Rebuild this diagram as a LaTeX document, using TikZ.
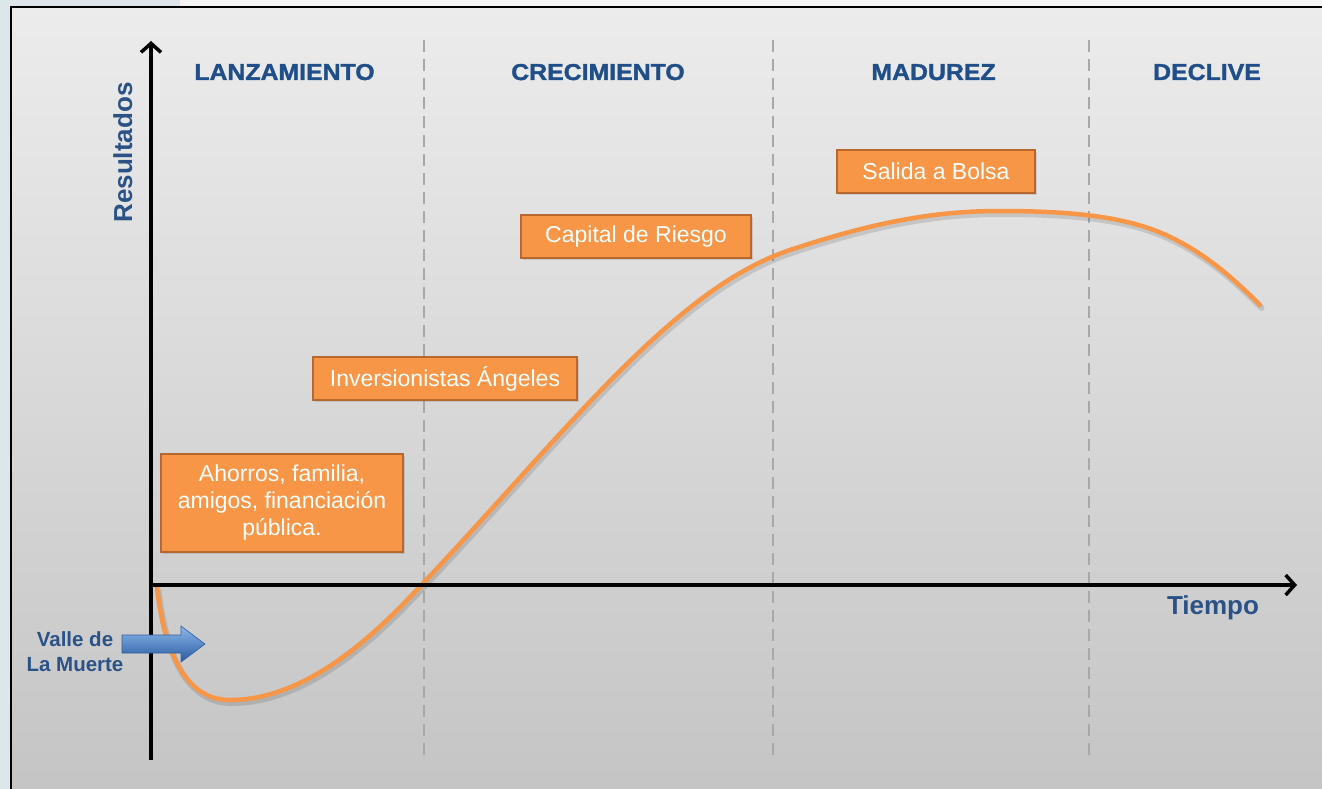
\documentclass[tikz,border=0pt]{standalone}
\usepackage{fontspec}
\setmainfont{Liberation Sans}
\newfontfamily\hdfont{Liberation Sans}[UprightFont=* Bold, FakeStretch=1.08, FakeBold=1.5]
\newfontfamily\lbfont{Liberation Sans}[UprightFont=* Bold]
\usetikzlibrary{arrows.meta,shadows}
\definecolor{hdblue}{HTML}{1F4E89}
\definecolor{lbblue}{HTML}{2A5286}
\definecolor{orfill}{HTML}{F79646}
\definecolor{ordraw}{HTML}{B8672E}
\definecolor{dashgray}{HTML}{A8A8A8}
\tikzset{
  header/.style={text=hdblue, font=\hdfont\fontsize{23}{27}\selectfont, inner sep=0pt, anchor=base},
  axislabel/.style={text=lbblue, font=\lbfont\fontsize{26}{30}\selectfont, inner sep=0pt, anchor=base},
  orbox/.style={fill=orfill, draw=ordraw, line width=2pt, text=white, align=center,
    font=\fontsize{23}{27}\selectfont, inner sep=0pt,
    drop shadow={opacity=0.25, shadow xshift=1.5pt, shadow yshift=-2pt}},
  phase/.style={draw=dashgray, line width=1.3pt, dash pattern=on 12pt off 7pt},
  axis/.style={draw=black, line width=3.5pt, -{Straight Barb[length=9pt,width=20pt,line width=3.5pt]}},
  curve/.style={draw=orfill, line width=4.5pt, line cap=round, line join=round}
}
\begin{document}
\begin{tikzpicture}[x=1pt,y=-1pt]
\useasboundingbox (0,0) rectangle (1322,789);
% outer background
\fill[color={rgb,255:red,221;green,230;blue,235}] (0,0) rectangle (1322,789);
\fill[color={rgb,255:red,245;green,245;blue,245}] (180,0) rectangle (1322,7);
% frame
\shade[top color={rgb,255:red,236;green,236;blue,236}, bottom color={rgb,255:red,196;green,196;blue,196}]
  (11,7) rectangle (1340,800);
\draw[black, line width=2pt] (11,800) -- (11,7) -- (1340,7);
% phase separators
\foreach \xx/\nm in {424/a,773/b,1089/c}{
  \coordinate (t\nm) at (\xx,40);
  \coordinate (b\nm) at (\xx,760);
  \draw[phase] (t\nm) -- (b\nm);
}
% headers
\node[header] (h1) at (284.5,80) {LANZAMIENTO};
\node[header] (h2) at (598,80) {CRECIMIENTO};
\node[header] (h3) at (933.5,80) {MADUREZ};
\node[header] (h4) at (1207,80) {DECLIVE};
% curve
\def\curvepath{(157,588) .. controls (163,640) and (180,700) .. (230,700)
  .. controls (290,700) and (350,660) .. (410,597)
  .. controls (560,440) and (670,290) .. (790,250)
  .. controls (880,220) and (940,211) .. (1000,211)
  .. controls (1090,211) and (1140,220) .. (1180,242)
  .. controls (1210,258) and (1235,280) .. (1260,305)}
\begin{scope}[shift={(1.5,3)}]
\draw[curve, draw=black, opacity=0.12, line width=6pt] \curvepath;
\end{scope}
\draw[curve] \curvepath;
% axes
\coordinate (yb) at (151,760);
\coordinate (yt) at (151,41);
\coordinate (xo) at (153,585);
\coordinate (xe) at (1297,585);
\draw[axis] (yb) -- (yt);
\draw[axis] (xo) -- (xe);
% axis labels
\node[axislabel, rotate=90] (res) at (132,152.5) {Resultados};
\node[axislabel] (tie) at (1213,614) {Tiempo};
% valle
\node[text=lbblue, font=\lbfont\fontsize{20.5}{25}\selectfont, align=center, inner sep=0pt] (valle) at (75,652) {Valle de\\La Muerte};
\shade[top color={rgb,255:red,140;green,185;blue,235}, bottom color={rgb,255:red,40;green,90;blue,160}, draw={rgb,255:red,50;green,95;blue,160}, line width=0.6pt]
  (122,635) -- (181,635) -- (181,626) -- (205,644) -- (181,662) -- (181,653) -- (122,653) -- cycle;
% boxes
\node[orbox, minimum width=242pt, minimum height=98pt] (b1) at (282,503) {Ahorros, familia,\\amigos, financiación\\pública.};
\node[orbox, minimum width=264pt, minimum height=43pt] (b2) at (445,378.5) {Inversionistas Ángeles};
\node[orbox, minimum width=230pt, minimum height=43pt] (b3) at (636,236.5) {Capital de Riesgo};
\node[orbox, minimum width=198pt, minimum height=43pt] (b4) at (936,171.5) {Salida a Bolsa};
\end{tikzpicture}
\end{document}
